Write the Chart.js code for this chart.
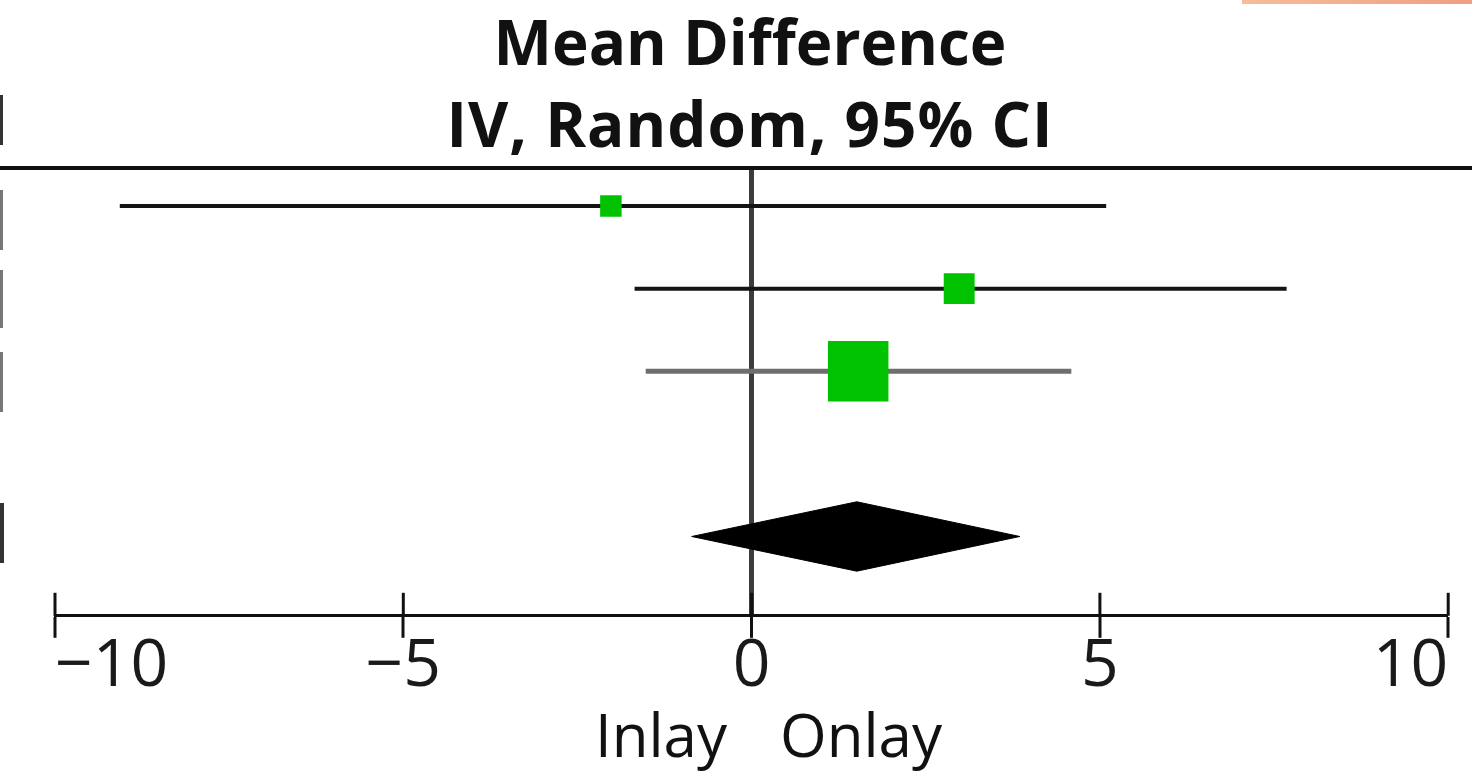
<!DOCTYPE html>
<html>
<head>
<meta charset="utf-8">
<script src="https://cdn.jsdelivr.net/npm/chart.js@4.4.1/dist/chart.umd.min.js"></script>
<style>
    html, body { margin: 0; padding: 0; background: #fff; }
    #wrap { position: relative; width: 1472px; height: 773px; overflow: hidden; }
    #plot { position: absolute; left: 0; top: 0; }
    .title { position: absolute; left: 0; width: 1500px; text-align: center; font-family: "Open Sans", sans-serif; font-weight: bold; font-size: 62px; line-height: 72px; color: #111; white-space: nowrap; }
    .favour { position: absolute; top: 702px; font-family: "Open Sans", sans-serif; font-size: 60px; line-height: 64px; color: #111; }
    .edge { position: absolute; left: 0; width: 3px; background: #333; }
    #tab { position: absolute; left: 1242px; top: 0; width: 230px; height: 4px; background: linear-gradient(90deg, #f6bc9c, #ef9f86); }
</style>
</head>
<body>
<div id="wrap">
    <canvas id="plot" width="1491" height="773"></canvas>
    <div class="title" style="top: 5px;">Mean Difference</div>
    <div class="title" style="top: 87px; letter-spacing: 1px;">IV, Random, 95% CI</div>
    <div class="favour" id="favLeft" style="right: 745px;">Inlay</div>
    <div class="favour" id="favRight" style="left: 780px;">Onlay</div>
    <div id="tab"></div>
    <div class="edge" style="top: 95px; height: 50px;"></div>
    <div class="edge" style="top: 190px; height: 60px; background: #777;"></div>
    <div class="edge" style="top: 270px; height: 58px; background: #777;"></div>
    <div class="edge" style="top: 352px; height: 60px; background: #777;"></div>
    <div class="edge" style="top: 503px; height: 60px; width: 4px;"></div>
</div>
<script>
// Datos (diferencia de medias, IC 95 %)
const studyRows = [1, 2, 3];
const meanDiff = [-2.02, 2.98, 1.53];
const ciLower = [-9.07, -1.68, -1.52];
const ciUpper = [5.09, 7.68, 4.59];
const weights = [9.1, 18.8, 72.1];

// Efecto combinado (rombo)
const pooledRow = 5;
const pooledMD = 1.51;
const pooledLower = -0.86;
const pooledUpper = 3.85;

const xTicks = [-10, -5, 0, 5, 10];

// Estilos
const lineColors = ["#141414", "#141414", "#6e6e6e"];
const lineWidths = [4, 4, 5];
const squareColor = "#00c200";
const diamondHalf = 0.42;

// Puntos (cuadrados) con tamaño según el peso
const squareData = studyRows.map((row, i) => ({ x: meanDiff[i], y: row }));

// Líneas de los intervalos
const ciDatasets = studyRows.map((row, i) => ({
    type: "line",
    data: [
        { x: ciLower[i], y: row },
        { x: ciUpper[i], y: row },
    ],
    borderColor: lineColors[i],
    borderWidth: lineWidths[i],
    pointRadius: 0,
    fill: false,
}));

const diamondData = [
    { x: pooledLower, y: pooledRow },
    { x: pooledMD, y: pooledRow - diamondHalf },
    { x: pooledUpper, y: pooledRow },
    { x: pooledMD, y: pooledRow + diamondHalf },
    { x: pooledLower, y: pooledRow },
];

// Líneas extra: borde superior y mitad superior de las marcas del eje
const frameLines = {
    id: "frameLines",
    afterDraw(chart) {
        const { ctx, chartArea } = chart;
        const xs = chart.scales.x;
        ctx.save();
        ctx.strokeStyle = "#111";
        ctx.lineWidth = 4;
        ctx.beginPath();
        ctx.moveTo(0, chartArea.top);
        ctx.lineTo(chart.width, chartArea.top);
        ctx.stroke();
        ctx.lineWidth = 3;
        xTicks.forEach((t) => {
            const px = xs.getPixelForValue(t);
            ctx.beginPath();
            ctx.moveTo(px, chartArea.bottom - 23);
            ctx.lineTo(px, chartArea.bottom);
            ctx.stroke();
        });
        ctx.restore();
    },
};

new Chart(document.getElementById("plot"), {
    type: "line",
    data: {
        datasets: [
            {
                type: "line",
                data: squareData,
                showLine: false,
                pointStyle: "rect",
                pointRadius: weights.map((w) => 5.04 * Math.sqrt(w)),
                pointBackgroundColor: squareColor,
                pointBorderWidth: 0,
                pointBorderColor: squareColor,
            },
            {
                type: "line",
                data: diamondData,
                borderColor: "#000",
                borderWidth: 1,
                backgroundColor: "#000",
                pointRadius: 0,
                fill: "shape",
                tension: 0,
            },
            ...ciDatasets,
        ],
    },
    options: {
        responsive: false,
        animation: false,
        events: [],
        layout: { padding: { left: 55, right: 4, top: 168, bottom: 76 } },
        plugins: {
            legend: { display: false },
            tooltip: { enabled: false },
            title: { display: false },
        },
        scales: {
            x: {
                type: "linear",
                min: -10,
                max: 10,
                afterBuildTicks: (scale) => {
                    scale.ticks = xTicks.map((v) => ({ value: v }));
                },
                ticks: {
                    align: "inner",
                    color: "#1a1a1a",
                    padding: -10,
                    font: { family: "Open Sans", size: 66 },
                    callback: (v) => (v < 0 ? "\u2212" + Math.abs(v) : String(v)),
                },
                grid: {
                    drawOnChartArea: true,
                    color: (c) => (c.tick && c.tick.value === 0 ? "#3c3c3c" : "rgba(0,0,0,0)"),
                    lineWidth: (c) => (c.tick && c.tick.value === 0 ? 5 : 0),
                    drawTicks: true,
                    tickLength: 22,
                    tickColor: "#111",
                    tickWidth: 3,
                },
                border: { display: true, color: "#111", width: 3 },
            },
            y: {
                type: "linear",
                display: false,
                reverse: true,
                min: 0.54,
                max: 5.96,
            },
        },
    },
    plugins: [frameLines],
});
</script>
</body>
</html>
